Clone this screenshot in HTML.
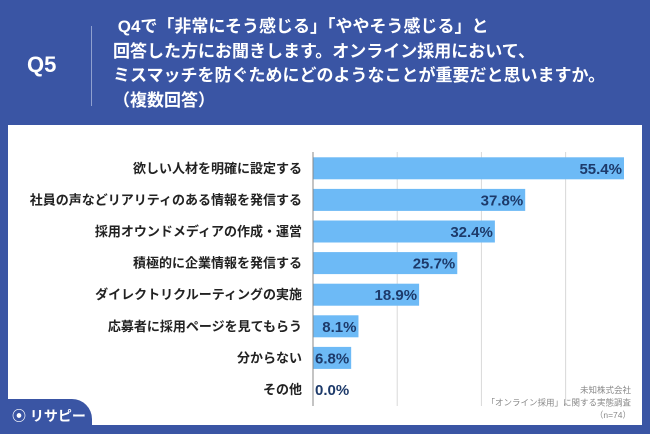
<!DOCTYPE html>
<html><head><meta charset="utf-8"><style>
body{margin:0;width:650px;height:434px;background:#3a55a4;position:relative;overflow:hidden;font-family:"Liberation Sans","Noto Sans CJK JP",sans-serif}
.t{position:absolute;color:#fff;font-weight:bold;white-space:nowrap}
</style></head><body>
<div class="t" style="left:27px;top:52px;font-size:22px">Q5</div>
<div style="position:absolute;left:91px;top:26px;width:1px;height:80px;background:#8fa0cf"></div>
<div class="t" style="left:113px;top:15px;font-size:17px;line-height:24.5px">&nbsp;Q4で「非常にそう感じる」「ややそう感じる」と<br>回答した方にお聞きします。オンライン採用において、<br>ミスマッチを防ぐためにどのようなことが重要だと思いますか。<br>（複数回答）</div>
<div style="position:absolute;left:8px;top:125px;width:634px;height:300px;background:#fff"></div>
<div style="position:absolute;left:0;top:399px;width:92px;height:35px;background:#3a55a4;border-top-right-radius:20px"></div>
<div class="t" style="left:12px;top:406px;font-size:14px">⦿ リサピー</div>
<svg id="c" width="650" height="434" style="position:absolute;left:0;top:0"></svg>
<script>
const categories=["欲しい人材を明確に設定する","社員の声などリアリティのある情報を発信する","採用オウンドメディアの作成・運営","積極的に企業情報を発信する","ダイレクトリクルーティングの実施","応募者に採用ページを見てもらう","分からない","その他"];
const values=[55.4,37.8,32.4,25.7,18.9,8.1,6.8,0.0];
const gridTicks=[15,30,45];
const NS="http://www.w3.org/2000/svg",svg=document.getElementById('c');
const x0=313,pxPer=(624-313)/55.4,y0=152.5,band=31.6,barH=22;
const xs=v=>x0+v*pxPer, yc=i=>y0+band*(i+0.5);
function mk(t,a){const e=document.createElementNS(NS,t);for(const k in a)e.setAttribute(k,a[k]);svg.appendChild(e);return e;}
gridTicks.forEach(t=>{const l=mk('line',{x1:xs(t),x2:xs(t),y1:152,y2:406,stroke:'#d8d8d8','stroke-width':1});

});
categories.forEach((c,i)=>{
 const v=values[i];
 if(v>0){const r=mk('rect',{x:x0,y:yc(i)-barH/2,width:xs(v)-x0,height:barH,fill:'#6dbaf6'});
 
 }
 const lab=mk('text',{x:302,y:yc(i)+4.5,'text-anchor':'end','font-size':'13','font-weight':'bold',fill:'#222'});lab.textContent=c;
 
 
 const w=xs(v)-x0, inside=w>42;
 const vl=mk('text',{x:inside?xs(v)-2:x0+2,y:yc(i)+5.5,'text-anchor':inside?'end':'start','font-size':'15','font-weight':'bold',fill:'#1d3a6a'});vl.textContent=v.toFixed(1)+'%';
 
 
});
const ax=mk('line',{x1:x0,x2:x0,y1:152,y2:406,stroke:'#888','stroke-width':1});


["未知株式会社","「オンライン採用」に関する実態調査","（n=74）"].forEach((s,i)=>{const t=mk('text',{x:631,y:393+i*12.5,'text-anchor':'end','font-size':'8.5',fill:'#888'});t.textContent=s;

});
</script>
</body></html>
